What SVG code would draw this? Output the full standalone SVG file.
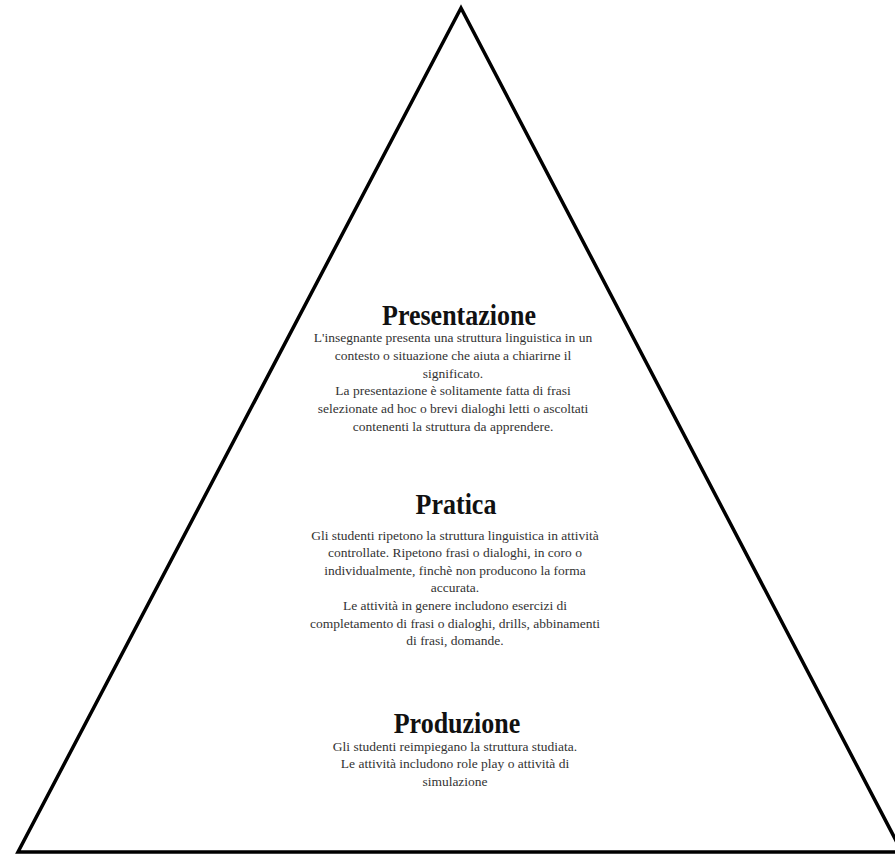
<svg xmlns="http://www.w3.org/2000/svg" width="895" height="855" viewBox="0 0 895 855">
<style>
.title{font-family:"Liberation Serif","Times New Roman",serif;font-weight:bold;font-size:26px;fill:#111;text-anchor:middle}
.body{font-family:"Liberation Serif","Times New Roman",serif;font-size:13.5px;fill:#333;text-anchor:middle}
</style>
<rect width="895" height="855" fill="#fff"/>
<g id="connectors"></g>
<g id="pyramid">
<polygon points="461,8 18,852 902,852" fill="#fff" stroke="#000" stroke-width="3.5" stroke-linejoin="miter"/>
</g>
<g id="presentazione">
<text class="title" transform="translate(459,325) scale(1,1.15)">Presentazione</text>
<text class="body" x="453" y="342">L'insegnante presenta una struttura linguistica in un</text>
<text class="body" x="453" y="360">contesto o situazione che aiuta a chiarirne il</text>
<text class="body" x="453" y="378">significato.</text>
<text class="body" x="453" y="395">La presentazione è solitamente fatta di frasi</text>
<text class="body" x="453" y="413">selezionate ad hoc o brevi dialoghi letti o ascoltati</text>
<text class="body" x="453" y="431">contenenti la struttura da apprendere.</text>
</g>
<g id="pratica">
<text class="title" transform="translate(456,514) scale(1,1.15)">Pratica</text>
<text class="body" x="455" y="540">Gli studenti ripetono la struttura linguistica in attività</text>
<text class="body" x="455" y="557">controllate. Ripetono frasi o dialoghi, in coro o</text>
<text class="body" x="455" y="575">individualmente, finchè non producono la forma</text>
<text class="body" x="455" y="592">accurata.</text>
<text class="body" x="455" y="610">Le attività in genere includono esercizi di</text>
<text class="body" x="455" y="628">completamento di frasi o dialoghi, drills, abbinamenti</text>
<text class="body" x="455" y="645">di frasi, domande.</text>
</g>
<g id="produzione">
<text class="title" transform="translate(457,733) scale(1,1.15)">Produzione</text>
<text class="body" x="455" y="751">Gli studenti reimpiegano la struttura studiata.</text>
<text class="body" x="455" y="768">Le attività includono role play o attività di</text>
<text class="body" x="455" y="786">simulazione</text>
</g>
</svg>
